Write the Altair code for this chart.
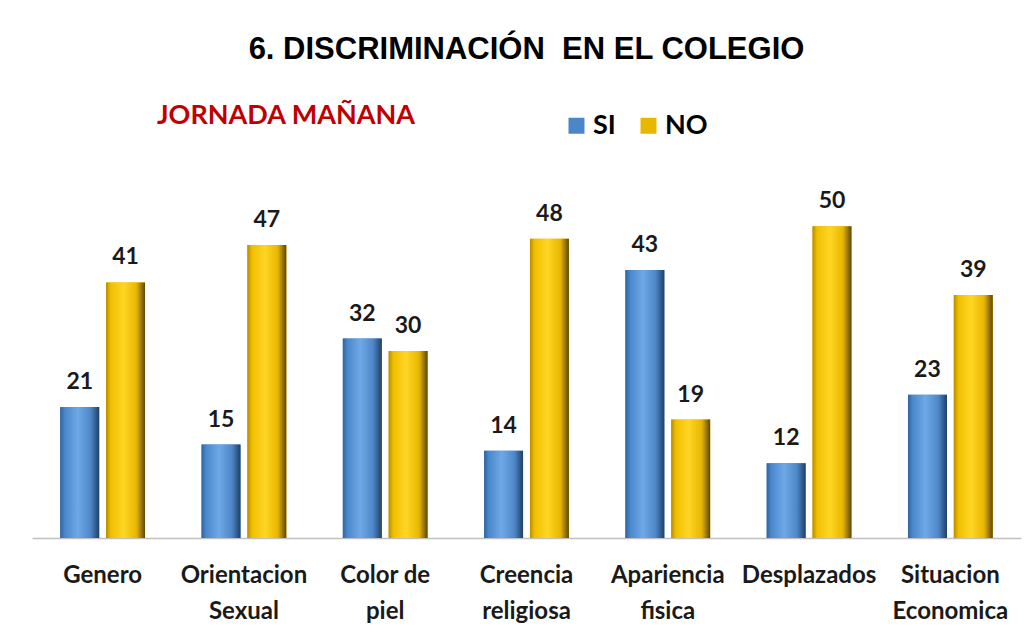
import altair as alt
import pandas as pd

categorias = ["Genero", "Orientacion|Sexual", "Color de|piel", "Creencia|religiosa",
              "Apariencia|fisica", "Desplazados", "Situacion|Economica"]
series = ["SI", "NO"]
valores_si = [21, 15, 32, 14, 43, 12, 23]
valores_no = [41, 47, 30, 48, 19, 50, 39]

rows = []
for c, s, n in zip(categorias, valores_si, valores_no):
    rows.append({"categoria": c, "serie": "SI", "valor": s})
    rows.append({"categoria": c, "serie": "NO", "valor": n})
df = pd.DataFrame(rows)

BLUE = "#4a86c8"
GOLD = "#e8b800"

grad_blue = alt.Gradient(
    gradient="linear", x1=0, x2=1, y1=0, y2=0,
    stops=[
        alt.GradientStop(offset=0, color="#2f64a0"),
        alt.GradientStop(offset=0.12, color="#4a88cc"),
        alt.GradientStop(offset=0.45, color="#6fa8e6"),
        alt.GradientStop(offset=0.78, color="#4d87c8"),
        alt.GradientStop(offset=1, color="#1f3f66"),
    ],
)
grad_gold = alt.Gradient(
    gradient="linear", x1=0, x2=1, y1=0, y2=0,
    stops=[
        alt.GradientStop(offset=0, color="#b98c00"),
        alt.GradientStop(offset=0.12, color="#f0bf00"),
        alt.GradientStop(offset=0.45, color="#ffd625"),
        alt.GradientStop(offset=0.78, color="#e8b600"),
        alt.GradientStop(offset=1, color="#5e4600"),
    ],
)

base = alt.Chart(df).encode(
    x=alt.X(
        "categoria:N",
        sort=categorias,
        scale=alt.Scale(paddingInner=0.4, paddingOuter=0.2),
        axis=alt.Axis(
            title=None,
            labelExpr="split(datum.label, '|')",
            labelAngle=0,
            labelFont="Lato",
            labelFontSize=24,
            labelFontWeight="bold",
            labelColor="#1a1a1a",
            labelPadding=25,
            labelLineHeight=36,
            labelLimit=300,
            ticks=False,
            domainColor="#c0c0c0",
            domainWidth=1.5,
        ),
    ),
    xOffset=alt.XOffset("serie:N", sort=series, scale=alt.Scale(paddingInner=0.15)),
    y=alt.Y("valor:Q", scale=alt.Scale(domain=[0, 60]), axis=None),
)

legend_bars = base.mark_bar().encode(
    color=alt.Color(
        "serie:N",
        sort=series,
        scale=alt.Scale(domain=series, range=[BLUE, GOLD]),
        legend=alt.Legend(
            orient="none",
            legendX=125,
            legendY=-52,
            direction="horizontal",
            title=["JORNADA MAÑANA", " "],
            titleOrient="left",
            titleBaseline="middle",
            titleLineHeight=18,
            titleColor="#C00000",
            titleFont="Lato",
            titleFontSize=27,
            titleFontWeight="bold",
            titleLimit=500,
            titlePadding=147,
            labelFont="Lato",
            labelFontSize=27,
            labelFontWeight="bold",
            labelColor="black",
            symbolType="square",
            symbolSize=256,
            symbolStrokeWidth=0,
            symbolOpacity=1,
            columnPadding=19,
            labelOffset=3,
        ),
    )
)

si_bars = base.transform_filter("datum.serie == 'SI'").mark_bar(color=grad_blue)
no_bars = base.transform_filter("datum.serie == 'NO'").mark_bar(color=grad_gold)

labels = base.mark_text(
    baseline="bottom", dy=-13, font="Lato", fontSize=23, fontWeight="bold", color="#1a1a1a"
).encode(text="valor:Q")

chart = (
    alt.layer(legend_bars, si_bars, no_bars, labels)
    .properties(
        width=989,
        height=374,
        title=alt.TitleParams(
            text="6. DISCRIMINACIÓN\u00a0 EN EL COLEGIO",
            font="Liberation Sans",
            fontSize=31,
            fontWeight="bold",
            color="black",
            anchor="middle",
            offset=46,
        ),
        autosize=alt.AutoSizeParams(type="none"),
        padding={"left": 24, "top": 156, "right": 5, "bottom": 90},
        background="white",
    )
    .configure_view(stroke=None)
)

chart.save("out.html", embed_options={"renderer": "svg", "actions": False})
